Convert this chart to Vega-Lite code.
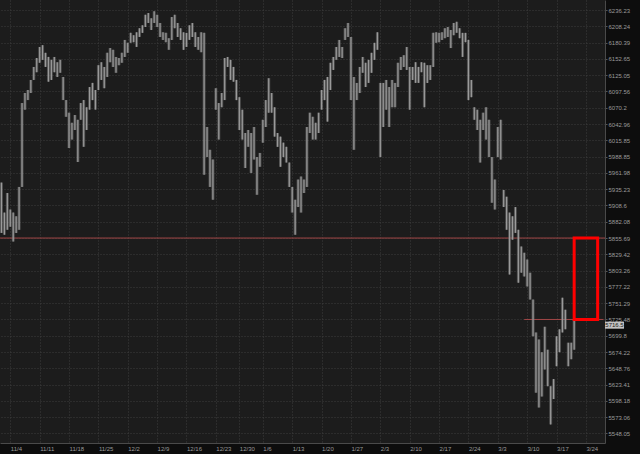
{
  "$schema": "https://vega.github.io/schema/vega-lite/v6.json",
  "width": 605,
  "height": 443,
  "autosize": {"type": "none"},
  "padding": {"left": 0, "top": 0, "right": 35, "bottom": 11},
  "background": "#0d0d0d",
  "config": {"view": {"fill": "#1c1c1c", "stroke": null}, "font": "Liberation Sans"},
  "datasets": {
    "bars": [
      {"t":"2024-10-31b","h":5946,"l":5864},{"t":"2024-11-01a","h":5897,"l":5861},{"t":"2024-11-01b","h":5929,"l":5869},
      {"t":"2024-11-04a","h":5902,"l":5874},{"t":"2024-11-04b","h":5897,"l":5850},{"t":"2024-11-05a","h":5891,"l":5864},{"t":"2024-11-05b","h":5939,"l":5869},
      {"t":"2024-11-06a","h":6078,"l":5939},{"t":"2024-11-06b","h":6095,"l":6067},{"t":"2024-11-07a","h":6100,"l":6083},{"t":"2024-11-07b","h":6117,"l":6095},
      {"t":"2024-11-08a","h":6139,"l":6117},{"t":"2024-11-08b","h":6154,"l":6130},
      {"t":"2024-11-11a","h":6173,"l":6146},{"t":"2024-11-11b","h":6176,"l":6151},{"t":"2024-11-12a","h":6163,"l":6139},{"t":"2024-11-12b","h":6156,"l":6114},
      {"t":"2024-11-13a","h":6151,"l":6117},{"t":"2024-11-13b","h":6156,"l":6130},{"t":"2024-11-14a","h":6147,"l":6122},{"t":"2024-11-14b","h":6151,"l":6129},
      {"t":"2024-11-15a","h":6122,"l":6083},{"t":"2024-11-15b","h":6083,"l":6055},
      {"t":"2024-11-18a","h":6062,"l":6003},{"t":"2024-11-18b","h":6045,"l":6017},{"t":"2024-11-19a","h":6058,"l":6033},{"t":"2024-11-19b","h":6050,"l":5980},
      {"t":"2024-11-20a","h":6078,"l":6050},{"t":"2024-11-20b","h":6083,"l":6005},{"t":"2024-11-21a","h":6071,"l":6033},{"t":"2024-11-21b","h":6105,"l":6067},
      {"t":"2024-11-22a","h":6112,"l":6083},{"t":"2024-11-22b","h":6100,"l":6067},
      {"t":"2024-11-25a","h":6142,"l":6100},{"t":"2024-11-25b","h":6147,"l":6117},{"t":"2024-11-26a","h":6139,"l":6103},{"t":"2024-11-26b","h":6163,"l":6122},
      {"t":"2024-11-27a","h":6171,"l":6147},{"t":"2024-11-27b","h":6168,"l":6139},{"t":"2024-11-28a","h":6156,"l":6129},{"t":"2024-11-28b","h":6154,"l":6142},
      {"t":"2024-11-29a","h":6163,"l":6146},{"t":"2024-11-29b","h":6185,"l":6156},
      {"t":"2024-12-02a","h":6180,"l":6163},{"t":"2024-12-02b","h":6197,"l":6180},{"t":"2024-12-03a","h":6193,"l":6181},{"t":"2024-12-03b","h":6198,"l":6173},
      {"t":"2024-12-04a","h":6205,"l":6190},{"t":"2024-12-04b","h":6210,"l":6197},{"t":"2024-12-05a","h":6228,"l":6207},{"t":"2024-12-05b","h":6231,"l":6214},
      {"t":"2024-12-06a","h":6222,"l":6202},{"t":"2024-12-06b","h":6234,"l":6214},
      {"t":"2024-12-09a","h":6228,"l":6207},{"t":"2024-12-09b","h":6214,"l":6190},{"t":"2024-12-10a","h":6198,"l":6185},{"t":"2024-12-10b","h":6197,"l":6181},
      {"t":"2024-12-11a","h":6188,"l":6168},{"t":"2024-12-11b","h":6224,"l":6185},{"t":"2024-12-12a","h":6228,"l":6205},{"t":"2024-12-12b","h":6214,"l":6190},
      {"t":"2024-12-13a","h":6205,"l":6185},{"t":"2024-12-13b","h":6198,"l":6168},
      {"t":"2024-12-16a","h":6197,"l":6173},{"t":"2024-12-16b","h":6210,"l":6185},{"t":"2024-12-17a","h":6214,"l":6190},{"t":"2024-12-17b","h":6198,"l":6173},
      {"t":"2024-12-18a","h":6190,"l":6168},{"t":"2024-12-18b","h":6198,"l":6164},{"t":"2024-12-19a","h":6197,"l":5959},{"t":"2024-12-19b","h":6038,"l":5988},
      {"t":"2024-12-20a","h":6000,"l":5939},{"t":"2024-12-20b","h":5984,"l":5918},
      {"t":"2024-12-23a","h":6103,"l":6067},{"t":"2024-12-23b","h":6078,"l":6017},{"t":"2024-12-24a","h":6095,"l":6071},{"t":"2024-12-24b","h":6154,"l":6083},
      {"t":"2024-12-26a","h":6156,"l":6139},{"t":"2024-12-26b","h":6151,"l":6117},{"t":"2024-12-27a","h":6139,"l":6114},{"t":"2024-12-27b","h":6117,"l":6083},
      {"t":"2024-12-30a","h":6088,"l":6033},{"t":"2024-12-30b","h":6067,"l":6017},{"t":"2024-12-31a","h":6028,"l":5970},{"t":"2024-12-31b","h":6033,"l":6005},
      {"t":"2025-01-02a","h":6028,"l":5962},{"t":"2025-01-02b","h":6038,"l":5984},{"t":"2025-01-03a","h":5988,"l":5926},{"t":"2025-01-03b","h":5995,"l":5972},
      {"t":"2025-01-06a","h":6050,"l":6012},{"t":"2025-01-06b","h":6083,"l":6038},{"t":"2025-01-07a","h":6120,"l":6062},{"t":"2025-01-07b","h":6095,"l":6062},
      {"t":"2025-01-08a","h":6071,"l":6022},{"t":"2025-01-08b","h":6028,"l":6005},{"t":"2025-01-09a","h":6022,"l":5972},{"t":"2025-01-09b","h":6012,"l":5988},
      {"t":"2025-01-10a","h":6005,"l":5979},{"t":"2025-01-10b","h":5979,"l":5939},
      {"t":"2025-01-13a","h":5939,"l":5897},{"t":"2025-01-13b","h":5918,"l":5861},{"t":"2025-01-14a","h":5951,"l":5906},{"t":"2025-01-14b","h":5956,"l":5897},
      {"t":"2025-01-15a","h":5951,"l":5929},{"t":"2025-01-15b","h":6038,"l":5939},{"t":"2025-01-16a","h":6062,"l":6028},{"t":"2025-01-16b","h":6055,"l":6017},
      {"t":"2025-01-17a","h":6045,"l":6017},{"t":"2025-01-17b","h":6062,"l":6028},
      {"t":"2025-01-20a","h":6100,"l":6067},{"t":"2025-01-20b","h":6117,"l":6083},{"t":"2025-01-21a","h":6122,"l":6047},{"t":"2025-01-21b","h":6146,"l":6100},
      {"t":"2025-01-22a","h":6156,"l":6134},{"t":"2025-01-22b","h":6173,"l":6151},{"t":"2025-01-23a","h":6185,"l":6156},{"t":"2025-01-23b","h":6173,"l":6154},
      {"t":"2025-01-24a","h":6205,"l":6185},{"t":"2025-01-24b","h":6214,"l":6190},
      {"t":"2025-01-27a","h":6190,"l":6083},{"t":"2025-01-27b","h":6122,"l":6000},{"t":"2025-01-28a","h":6112,"l":6083},{"t":"2025-01-28b","h":6139,"l":6095},
      {"t":"2025-01-29a","h":6156,"l":6129},{"t":"2025-01-29b","h":6146,"l":6105},{"t":"2025-01-30a","h":6151,"l":6112},{"t":"2025-01-30b","h":6163,"l":6129},
      {"t":"2025-01-31a","h":6180,"l":6151},{"t":"2025-01-31b","h":6198,"l":6168},
      {"t":"2025-02-03a","h":6112,"l":5988},{"t":"2025-02-03b","h":6112,"l":6038},{"t":"2025-02-04a","h":6117,"l":6067},{"t":"2025-02-04b","h":6105,"l":6038},
      {"t":"2025-02-05a","h":6117,"l":6071},{"t":"2025-02-05b","h":6112,"l":6071},{"t":"2025-02-06a","h":6146,"l":6105},{"t":"2025-02-06b","h":6156,"l":6134},
      {"t":"2025-02-07a","h":6159,"l":6139},{"t":"2025-02-07b","h":6173,"l":6134},
      {"t":"2025-02-10a","h":6139,"l":6067},{"t":"2025-02-10b","h":6139,"l":6117},{"t":"2025-02-11a","h":6147,"l":6112},{"t":"2025-02-11b","h":6139,"l":6112},
      {"t":"2025-02-12a","h":6147,"l":6130},{"t":"2025-02-12b","h":6146,"l":6071},{"t":"2025-02-13a","h":6142,"l":6112},{"t":"2025-02-13b","h":6142,"l":6117},
      {"t":"2025-02-14a","h":6197,"l":6139},{"t":"2025-02-14b","h":6198,"l":6180},
      {"t":"2025-02-17a","h":6197,"l":6181},{"t":"2025-02-17b","h":6198,"l":6185},{"t":"2025-02-18a","h":6205,"l":6188},{"t":"2025-02-18b","h":6207,"l":6190},
      {"t":"2025-02-19a","h":6202,"l":6171},{"t":"2025-02-19b","h":6214,"l":6193},{"t":"2025-02-20a","h":6216,"l":6197},{"t":"2025-02-20b","h":6205,"l":6188},
      {"t":"2025-02-21a","h":6197,"l":6156},{"t":"2025-02-21b","h":6197,"l":6181},
      {"t":"2025-02-24a","h":6185,"l":6083},{"t":"2025-02-24b","h":6117,"l":6088},{"t":"2025-02-25a","h":6071,"l":6050},{"t":"2025-02-25b","h":6067,"l":6033},
      {"t":"2025-02-26a","h":6050,"l":5979},{"t":"2025-02-26b","h":6062,"l":6033},{"t":"2025-02-27a","h":6071,"l":6017},{"t":"2025-02-27b","h":6050,"l":5988},
      {"t":"2025-02-28a","h":5988,"l":5913},{"t":"2025-02-28b","h":5951,"l":5902},
      {"t":"2025-03-03a","h":6038,"l":5988},{"t":"2025-03-03b","h":6050,"l":5984},{"t":"2025-03-04a","h":5934,"l":5906},{"t":"2025-03-04b","h":5923,"l":5869},
      {"t":"2025-03-05a","h":5897,"l":5797},{"t":"2025-03-05b","h":5891,"l":5853},{"t":"2025-03-06a","h":5906,"l":5864},{"t":"2025-03-06b","h":5869,"l":5784},
      {"t":"2025-03-07a","h":5842,"l":5800},{"t":"2025-03-07b","h":5832,"l":5794},
      {"t":"2025-03-10a","h":5821,"l":5778},{"t":"2025-03-10b","h":5800,"l":5757},{"t":"2025-03-11a","h":5757,"l":5699},{"t":"2025-03-11b","h":5705,"l":5611},
      {"t":"2025-03-12a","h":5694,"l":5588},{"t":"2025-03-12b","h":5674,"l":5605},{"t":"2025-03-13a","h":5714,"l":5647},{"t":"2025-03-13b","h":5678,"l":5621},
      {"t":"2025-03-14a","h":5621,"l":5562},{"t":"2025-03-14b","h":5632,"l":5601},
      {"t":"2025-03-17a","h":5699,"l":5652},{"t":"2025-03-17b","h":5710,"l":5674},{"t":"2025-03-18a","h":5760,"l":5705},{"t":"2025-03-18b","h":5741,"l":5710},
      {"t":"2025-03-19a","h":5689,"l":5652},{"t":"2025-03-19b","h":5689,"l":5663},{"t":"2025-03-20a","h":5725,"l":5678}
    ]
  },
  "layer": [
    {
      "data": {"values": [{"p": 5855.69}]},
      "mark": {"type": "rule", "color": "#a04646", "strokeWidth": 1},
      "encoding": {"y": {"field": "p", "type": "quantitative", "title": null}}
    },
    {
      "data": {"values": [{"t": "2025-03-07b", "t2": "2025-03-27a", "p": 5725.48}]},
      "mark": {"type": "rule", "color": "#a04646", "strokeWidth": 1},
      "encoding": {
        "x": {"field": "t", "type": "ordinal", "title": null},
        "x2": {"field": "t2"},
        "y": {"field": "p", "type": "quantitative", "title": null}
      }
    },
    {
      "data": {"name": "bars"},
      "mark": {"type": "bar", "color": "#7e7e7e", "size": 3, "opacity": 0.5},
      "encoding": {
        "x": {
          "field": "t", "type": "ordinal", "title": null,
          "scale": {"type": "point", "padding": 0.5,
            "domain": {"unionWith": ["2025-03-20b","2025-03-21a","2025-03-21b","2025-03-24a","2025-03-24b","2025-03-25a","2025-03-25b","2025-03-26a","2025-03-26b","2025-03-27a"]}},
          "axis": {
            "values": ["2024-11-04a","2024-11-11a","2024-11-18a","2024-11-25a","2024-12-02a","2024-12-09a","2024-12-16a","2024-12-23a","2024-12-30a","2025-01-06a","2025-01-13a","2025-01-20a","2025-01-27a","2025-02-03a","2025-02-10a","2025-02-17a","2025-02-24a","2025-03-03a","2025-03-10a","2025-03-17a","2025-03-24a"],
            "labelExpr": "toNumber(slice(datum.value,5,7)) + '/' + toNumber(slice(datum.value,8,10))",
            "labelAngle": 0, "labelAlign": "left", "labelBaseline": "top", "labelFontSize": 6, "labelColor": "#9a9a9a",
            "labelPadding": 2, "labelOverlap": false, "ticks": false,
            "grid": true, "gridColor": "#3c3c3c", "gridDash": [1, 2],
            "domain": true, "domainColor": "#4a4a4a"
          }
        },
        "y": {
          "field": "l", "type": "quantitative", "title": null,
          "scale": {"type": "log", "domain": [5533.5, 6253.5], "nice": false, "zero": false},
          "axis": {
            "orient": "right",
            "values": [6236.23, 6208.24, 6180.39, 6152.65, 6125.05, 6097.56, 6070.2, 6042.96, 6015.85, 5988.85, 5961.98, 5935.23, 5908.6, 5882.08, 5855.69, 5829.42, 5803.26, 5777.22, 5751.29, 5725.48, 5699.8, 5674.22, 5648.76, 5623.41, 5598.18, 5573.06, 5548.05],
            "labelExpr": "'' + datum.value",
            "labelFontSize": 6, "labelColor": "#9a9a9a", "labelPadding": 1, "labelOverlap": false,
            "tickSize": 2, "tickColor": "#555555",
            "grid": true, "gridColor": "#3c3c3c", "gridDash": [1, 2],
            "domain": true, "domainColor": "#4a4a4a"
          }
        },
        "y2": {"field": "h"}
      }
    },
    {
      "data": {"name": "bars"},
      "mark": {"type": "rule", "color": "#9a9a9a", "strokeWidth": 1.2},
      "encoding": {
        "x": {"field": "t", "type": "ordinal", "title": null},
        "y": {"field": "l", "type": "quantitative", "title": null},
        "y2": {"field": "h"}
      }
    },
    {
      "data": {"values": [{"t": "2025-03-20a", "t2": "2025-03-26a", "lo": 5725.48, "hi": 5855.69}]},
      "mark": {"type": "rect", "fill": null, "fillOpacity": 0, "stroke": "#ff0000", "strokeWidth": 3},
      "encoding": {
        "x": {"field": "t", "type": "ordinal", "title": null},
        "x2": {"field": "t2"},
        "y": {"field": "lo", "type": "quantitative", "title": null},
        "y2": {"field": "hi"}
      }
    },
    {
      "data": {"values": [{"t": "2025-03-27a", "p": 5716.5}]},
      "layer": [
        {
          "mark": {"type": "point", "shape": "M-1,-0.37H1V0.37H-1Z", "size": 361, "filled": true, "color": "#c4c4c4", "opacity": 1, "xOffset": 11},
          "encoding": {
            "x": {"field": "t", "type": "ordinal", "title": null},
            "y": {"field": "p", "type": "quantitative", "title": null}
          }
        },
        {
          "mark": {"type": "text", "fontSize": 6, "color": "#1a1a1a", "xOffset": 11, "align": "center", "baseline": "middle"},
          "encoding": {
            "x": {"field": "t", "type": "ordinal", "title": null},
            "y": {"field": "p", "type": "quantitative", "title": null},
            "text": {"field": "p", "type": "quantitative", "format": ".1f"}
          }
        }
      ]
    }
  ]
}
